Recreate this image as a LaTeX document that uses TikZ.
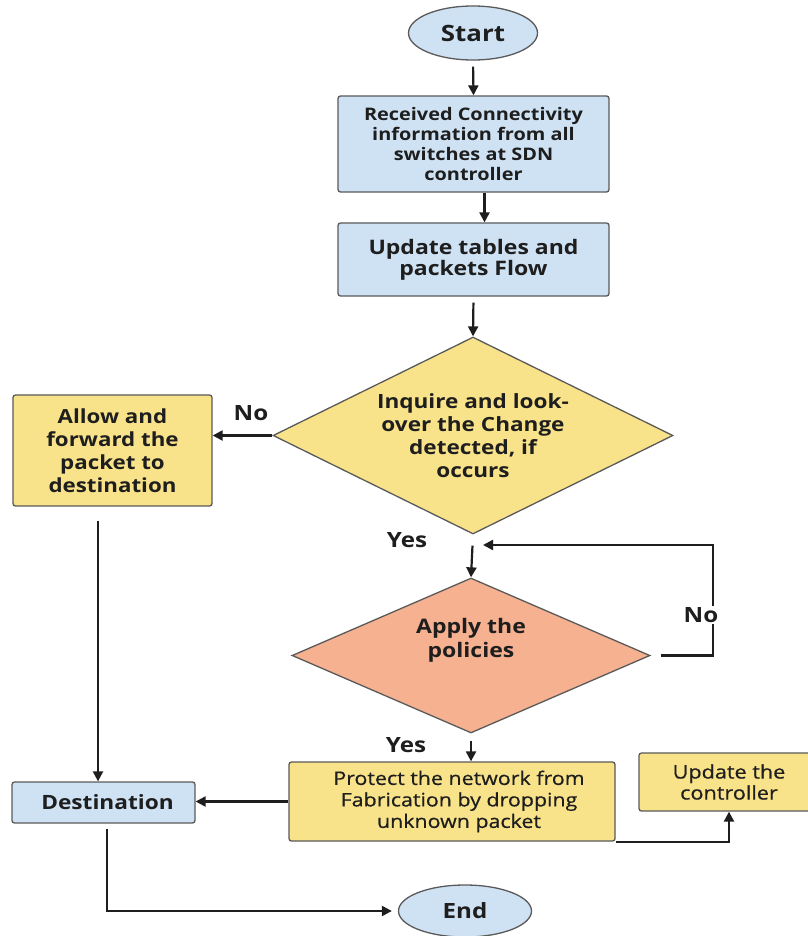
\documentclass[tikz,border=0pt]{standalone}
\usepackage{fontspec}
\setmainfont{Open Sans}[FakeStretch=1.15]
\newfontfamily\medfont{Open Sans}[FakeStretch=1.15,FakeBold=0.6]
\usetikzlibrary{shapes.geometric,arrows.meta}
\definecolor{boxblue}{HTML}{CFE2F4}
\definecolor{boxyellow}{HTML}{F9E38A}
\definecolor{boxorange}{HTML}{F5B190}
\definecolor{edgegray}{HTML}{5A5A5A}
\definecolor{inkdark}{HTML}{1E1E1E}
\begin{document}
\begin{tikzpicture}[x=1pt,y=-1pt,
  every node/.style={text=inkdark},
  blk/.style={draw=edgegray, line width=1.3pt, rounded corners=2.5pt, inner sep=0pt, align=center},
  bluebox/.style={blk, fill=boxblue},
  yellowbox/.style={blk, fill=boxyellow},
  term/.style={ellipse, draw=edgegray, line width=1.3pt, fill=boxblue, inner sep=0pt},
  decision/.style={diamond, draw=edgegray, line width=1.3pt, inner sep=0pt, align=center},
  flow/.style={draw=inkdark, line width=2.2pt, -{Triangle[length=10pt,width=10pt]}},
  lbl/.style={font=\bfseries\fontsize{21}{24}\selectfont}
]
\useasboundingbox (0,0) rectangle (807,936);
\fill[white] (0,0) rectangle (807,936);

\node[term, minimum width=129pt, minimum height=54pt, font=\bfseries\fontsize{22.5}{26}\selectfont] (start) at (473,33) {Start};
\node[bluebox, font=\bfseries\fontsize{17.3}{19.8}\selectfont, minimum width=271pt, minimum height=96pt] (recv) at (473.5,144) {Received Connectivity\\information from all\\switches at SDN\\controller};
\node[bluebox, font=\bfseries\fontsize{20}{21}\selectfont, minimum width=271pt, minimum height=73pt] (upd) at (473.5,259.5) {Update tables and\\packets Flow};
\node[decision, fill=boxyellow, font=\bfseries\fontsize{19.6}{23}\selectfont, minimum width=400pt, minimum height=197pt, aspect=2.03] (inq) at (473,435.5) {Inquire and look-\\over the Change\\detected, if\\occurs};
\node[yellowbox, font=\bfseries\fontsize{19.4}{23}\selectfont, minimum width=199pt, minimum height=111pt] (allow) at (112.5,450.5) {Allow and\\forward the\\packet to\\destination};
\node[decision, fill=boxorange, minimum width=358pt, minimum height=155pt, aspect=2.3,
  label={[name=applytxt, align=center, yshift=15pt, font=\bfseries\fontsize{20}{24}\selectfont]center:Apply the\\policies}] (apply) at (471,655.5) {};
\node[yellowbox, font=\medfont\fontsize{18.6}{21.5}\selectfont, minimum width=326pt, minimum height=79pt] (prot) at (452,801.5) {\hspace*{14pt}Protect the network from\\\hspace*{14pt}Fabrication by dropping\\\hspace*{14pt}unknown packet};
\node[yellowbox, font=\medfont\fontsize{18.8}{21}\selectfont, minimum width=180pt, minimum height=58pt] (updc) at (729,782) {Update the\\controller};
\node[bluebox, font=\bfseries\fontsize{19.7}{22}\selectfont, minimum width=183pt, minimum height=41pt] (dest) at (103.5,802.5) {\hspace*{8pt}Destination};
\node[term, minimum width=133pt, minimum height=52pt, font=\bfseries\fontsize{21}{24}\selectfont] (end) at (465,911) {End};

\draw[flow, shorten <=6pt] (start.south) -- (recv.north);
\draw[flow] ([xshift=11pt]recv.south) -- ([xshift=11pt]upd.north);
\draw[flow, shorten <=6pt] (upd.south) -- (inq.north);
\draw[flow] (inq.west) -- (inq.west -| allow.east);
\node[lbl] (no1) at (251,413) {No};
\draw[flow, shorten <=11pt] (inq.south) -- (apply.north);
\node[lbl] (yes1) at (407,540) {Yes};
\coordinate (loopin) at (483,545);
\draw[flow] ([xshift=10pt]apply.east) -- ++(52,0) |- (loopin);
\node[lbl, fill=white, inner sep=1pt] (no2) at (701,615) {No};
\draw[flow, shorten <=7pt] (apply.south) -- (apply.south |- prot.north);
\node[lbl] (yes2) at (406,745) {Yes};
\draw[flow] ([xshift=-14.5pt,yshift=-14pt]allow.south) -- ([xshift=-5.5pt]dest.north);
\draw[flow] (prot.west) -- (prot.west -| dest.east);
\draw[flow] (prot.south east) -| (updc.south);
\draw[flow, shorten >=6pt] ([xshift=3.5pt,yshift=-5pt]dest.south) |- (end.west);
\end{tikzpicture}
\end{document}
